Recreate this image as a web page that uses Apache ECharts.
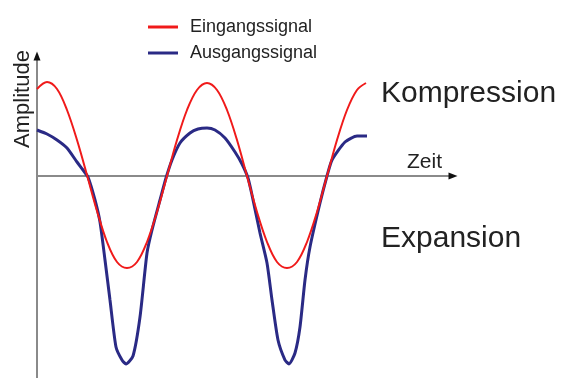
<!DOCTYPE html>
<html>
<head>
<meta charset="utf-8">
<title>Kompression und Expansion</title>
<script src="https://cdn.jsdelivr.net/npm/echarts@6/dist/echarts.min.js"></script>
<style>
  html, body { margin: 0; padding: 0; background: #fff; }
  #chart { width: 572px; height: 378px; }
</style>
</head>
<body>
<div id="chart"></div>
<script>
// Zeitachse (willkürliche Einheiten) und Amplituden der beiden Signale
var eingangZeit = [0, 1, 2, 3, 4, 5, 6, 7, 8, 9, 10, 11, 12, 13, 14, 15, 16,
                   17, 18, 19, 20, 21, 22, 23, 24, 25, 26, 27, 28, 29, 30, 31, 32, 32.9];
var eingangWert = [8.7, 9.4, 8.7, 6.6, 3.6, 0.1, -3.5, -6.6, -8.6, -9.2, -8.6, -6.6, -3.6, 0, 3.6, 6.6, 8.6,
                   9.3, 8.6, 6.6, 3.6, 0, -3.6, -6.6, -8.6, -9.2, -8.6, -6.6, -3.6, 0, 3.6, 6.6, 8.6, 9.3];

var ausgangZeit = [0, 1, 2, 3, 4, 4.6, 5.1, 5.8, 6.3, 6.8, 7.3, 7.9, 8.5, 8.9, 9.6, 10.3, 11.0, 11.5,
                   12.3, 12.9, 13.5, 14.3, 15.3, 16.1, 17.0, 17.8, 18.8, 19.8, 20.5, 21.1, 21.5, 22.3,
                   23.0, 23.5, 24.1, 24.8, 25.2, 25.8, 26.3, 26.8, 27.3, 28.3, 29.0, 29.5, 30.8, 32.0, 33.0];
var ausgangWert = [4.6, 4.2, 3.6, 2.8, 1.4, 0.6, -0.1, -2.4, -4.6, -8.4, -12.4, -17.1, -18.4, -18.8, -18.0, -14.1, -7.7, -5.4,
                   -2.4, -0.2, 1.6, 3.3, 4.3, 4.7, 4.8, 4.6, 3.8, 2.4, 1.2, -0.2, -1.9, -5.7,
                   -8.7, -12.4, -16.4, -18.4, -18.8, -17.7, -15.1, -10.4, -7.1, -2.7, 0, 1.6, 3.4, 4.0, 4.0];

var serienNamen = ['Eingangssignal', 'Ausgangssignal'];

function paare(xs, ys) {
  return xs.map(function (x, i) { return [x, ys[i]]; });
}

var rot = '#f01a1a';
var blau = '#2a2a85';
var achse = '#8a8a8a';
var textFarbe = '#222';
var schrift = '"Liberation Sans", Arial, sans-serif';

var chart = echarts.init(document.getElementById('chart'), null, { renderer: 'canvas' });

var xBase = {
  type: 'value', min: 0, max: 41.6, gridIndex: 0,
  axisTick: { show: false }, axisLabel: { show: false }, splitLine: { show: false }
};
var yBase = {
  type: 'value', min: -20.2, max: 12.0, gridIndex: 0, position: 'left',
  axisTick: { show: false }, axisLabel: { show: false }, splitLine: { show: false }
};

chart.setOption({
  animation: false,
  backgroundColor: '#fff',
  grid: { left: 37, right: 119, top: 56, bottom: 0, containLabel: false },
  legend: {
    orient: 'vertical',
    left: 143,
    top: 9,
    icon: 'rect',
    itemWidth: 30,
    itemHeight: 3,
    itemGap: 0,
    data: serienNamen,
    textStyle: { fontFamily: schrift, fontSize: 18, color: textFarbe, lineHeight: 26, padding: [0, 0, 0, 7] }
  },
  xAxis: [
    Object.assign({}, xBase, {
      axisLine: { show: true, onZero: true, lineStyle: { color: achse, width: 2 } }
    }),
    Object.assign({}, xBase, {
      axisLine: { show: true, onZero: true, symbol: ['none', 'triangle'], symbolSize: [7, 9],
                  lineStyle: { color: '#111', width: 0 } }
    })
  ],
  yAxis: [
    Object.assign({}, yBase, {
      axisLine: { show: true, onZero: false, lineStyle: { color: achse, width: 2 } }
    }),
    Object.assign({}, yBase, {
      axisLine: { show: true, onZero: false, symbol: ['none', 'triangle'], symbolSize: [7, 9],
                  lineStyle: { color: '#111', width: 0 } }
    })
  ],
  graphic: [
    { type: 'text', x: 23, y: 99, rotation: Math.PI / 2,
      style: { text: 'Amplitude', font: '22px ' + schrift, fill: textFarbe, align: 'center', verticalAlign: 'middle' } },
    { type: 'text', x: 407, y: 152,
      style: { text: 'Zeit', font: '21px ' + schrift, fill: textFarbe, align: 'left', verticalAlign: 'top' } },
    { type: 'text', x: 381, y: 79,
      style: { text: 'Kompression', font: '30px ' + schrift, fill: textFarbe, align: 'left', verticalAlign: 'top' } },
    { type: 'text', x: 381, y: 224,
      style: { text: 'Expansion', font: '30px ' + schrift, fill: textFarbe, align: 'left', verticalAlign: 'top' } }
  ],
  series: [
    {
      name: serienNamen[0], type: 'line', xAxisIndex: 0, yAxisIndex: 0,
      data: paare(eingangZeit, eingangWert),
      smooth: 0.35, showSymbol: false, symbol: 'none',
      itemStyle: { color: rot }, lineStyle: { color: rot, width: 2 }, z: 3
    },
    {
      name: serienNamen[1], type: 'line', xAxisIndex: 0, yAxisIndex: 0,
      data: paare(ausgangZeit, ausgangWert),
      smooth: 0.2, showSymbol: false, symbol: 'none',
      itemStyle: { color: blau }, lineStyle: { color: blau, width: 3 }, z: 2
    }
  ]
});
</script>
</body>
</html>
